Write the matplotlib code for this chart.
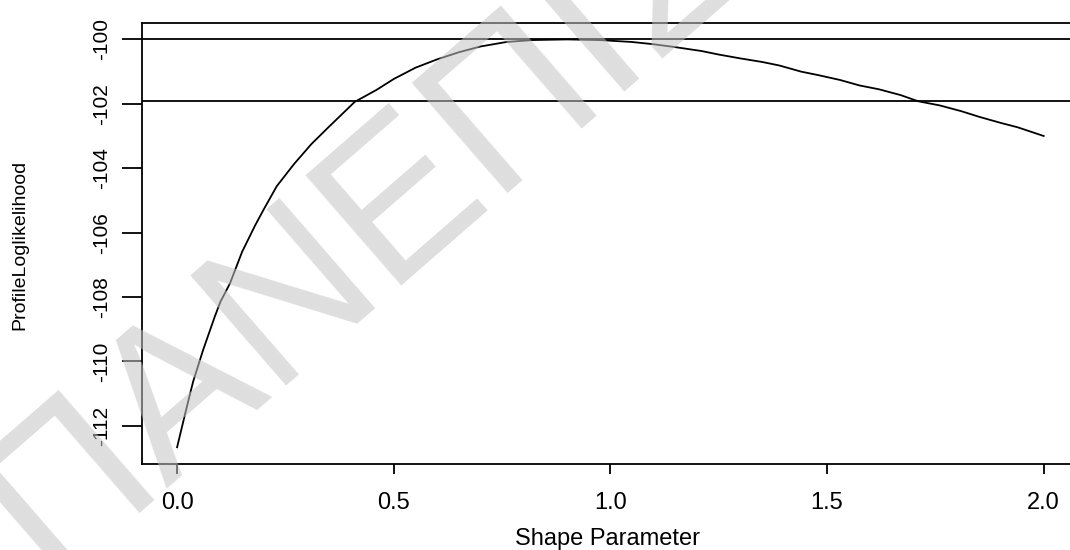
import numpy as np
import matplotlib.pyplot as plt

# profile log-likelihood
shape = [0.00, 0.02, 0.037, 0.06, 0.087, 0.10, 0.122, 0.15, 0.18, 0.20,
         0.23, 0.27, 0.31, 0.35, 0.41, 0.46, 0.50, 0.55, 0.60, 0.65,
         0.70, 0.76, 0.82, 0.90, 0.975, 1.05, 1.10, 1.15, 1.21, 1.25,
         1.30, 1.35, 1.39, 1.44, 1.48, 1.53, 1.575, 1.62, 1.67, 1.71,
         1.76, 1.81, 1.85, 1.90, 1.94, 2.00]
loglik = [-112.67, -111.55, -110.63, -109.65, -108.61, -108.15, -107.58, -106.60, -105.78, -105.28,
          -104.56, -103.87, -103.25, -102.72, -101.94, -101.57, -101.23, -100.88, -100.62, -100.40,
          -100.22, -100.08, -100.02, -100.00, -100.02, -100.08, -100.15, -100.24, -100.36, -100.47,
          -100.59, -100.70, -100.81, -101.00, -101.11, -101.26, -101.43, -101.55, -101.73, -101.92,
          -102.05, -102.23, -102.40, -102.59, -102.73, -103.00]
ref_lines = [-100.0, -101.92]
xticks = [0.0, 0.5, 1.0, 1.5, 2.0]
yticks = [-112, -110, -108, -106, -104, -102, -100]

plt.rcParams['font.family'] = ['Liberation Sans', 'DejaVu Sans']

fig = plt.figure(figsize=(10.7, 5.5), dpi=100)
ax = fig.add_axes([0.1327, 0.1569, 0.8755, 0.8007])

ax.plot(shape, loglik, color='black', lw=1.3)
for v in ref_lines:
    ax.axhline(v, color='black', lw=1.3)

ax.set_xlim(-0.081, 2.081)
ax.set_ylim(-113.18, -99.50)
ax.spines['right'].set_visible(False)
for s in ['left', 'bottom', 'top']:
    ax.spines[s].set_linewidth(1.3)

ax.set_xticks(xticks)
ax.set_xticklabels([f"{t:.1f}" for t in xticks], fontsize=17)
ax.set_yticks(yticks)
ax.set_yticklabels([str(t) for t in yticks], fontsize=15, rotation=90, va='center')
ax.tick_params(axis='x', length=7.5, width=1.3, pad=13)
ax.tick_params(axis='y', length=14.5, width=1.3, pad=8)

fig.text(0.568, 0.02, "Shape Parameter", fontsize=17, ha='center', va='center')
fig.text(0.019, 0.555, "ProfileLoglikelihood", fontsize=14, rotation=90,
         ha='center', va='center')

# diagonal watermark over the plot
fig.text(0.045, -0.05, "ΠΑΝΕΠΙΣΤΗΜΙΟ", fontsize=152, color='#c4c4c4', alpha=0.55,
         rotation=41, rotation_mode='anchor', ha='left', va='baseline', zorder=10)

fig.savefig("out.png", dpi=100)
